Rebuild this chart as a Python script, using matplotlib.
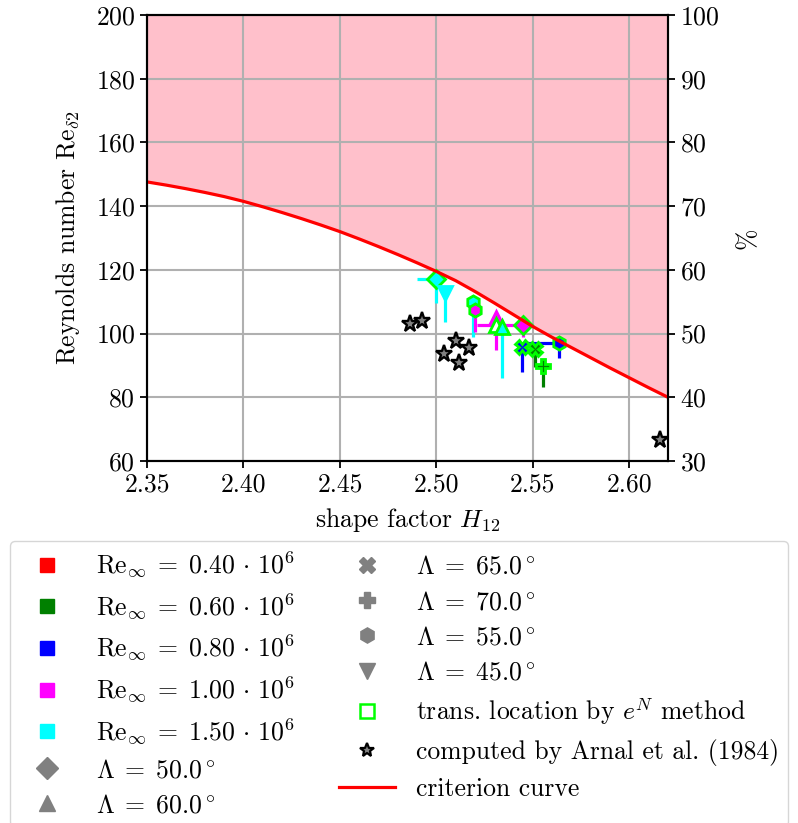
import matplotlib
matplotlib.use("Agg")
import matplotlib.pyplot as plt
from matplotlib.lines import Line2D

plt.rcParams["font.family"] = "serif"
plt.rcParams["font.serif"] = ["cmr10"]
plt.rcParams["mathtext.fontset"] = "cm"
plt.rcParams["axes.formatter.use_mathtext"] = True
plt.rcParams["axes.unicode_minus"] = False

FS = 18.5

# ---- criterion curve Re_delta2(H12) ----
curve_h = [2.35, 2.36, 2.37, 2.38, 2.39, 2.40, 2.41, 2.42, 2.43, 2.44, 2.45,
           2.46, 2.47, 2.48, 2.49, 2.50, 2.51, 2.52, 2.53, 2.54, 2.55, 2.56,
           2.57, 2.58, 2.59, 2.60, 2.61, 2.62]
curve_re = [147.6, 146.6, 145.5, 144.3, 143.0, 141.5, 139.8, 138.0, 136.1,
            134.1, 132.0, 129.7, 127.3, 124.8, 122.2, 119.5, 116.6, 113.2,
            109.6, 105.9, 102.2, 98.8, 95.6, 92.4, 89.2, 86.1, 83.0, 80.0]

# ---- measured / computed transition points ----
pt_h = [2.500, 2.5045, 2.519, 2.520, 2.531, 2.531, 2.534, 2.545, 2.5445, 2.5637, 2.551, 2.5554]
pt_re = [117.0, 112.7, 109.8, 107.5, 105.0, 102.7, 102.0, 102.8, 95.8, 97.1, 95.2, 89.8]
pt_color = ["cyan", "cyan", "cyan", "magenta", "magenta", "white", "cyan",
            "magenta", "blue", "blue", "green", "green"]
pt_edge = ["lime", "cyan", "lime", "lime", "magenta", "lime", "lime",
           "lime", "lime", "lime", "lime", "lime"]
pt_err_color = ["cyan", "cyan", "cyan", "magenta", "magenta", "magenta", "cyan",
                "magenta", "blue", "blue", "green", "green"]
pt_marker = ["D", "v", "h", "h", "^", "^", "^", "D", "X", "h", "X", "P"]
pt_xerr_lo = [0.010, 0.0, 0.0, 0.0, 0.0, 0.0, 0.0, 0.024, 0.0, 0.019, 0.0, 0.0]
pt_yerr_lo = [7.5, 9.0, 11.0, 7.0, 10.0, 0.0, 16.0, 3.8, 8.0, 4.8, 5.7, 6.6]

# ---- Arnal et al. (1984) ----
arnal_h = [2.4864, 2.4926, 2.5103, 2.5170, 2.5040, 2.5118, 2.6156]
arnal_re = [103.0, 104.0, 97.7, 95.5, 93.6, 90.8, 66.6]

re_labels = ["0.40", "0.60", "0.80", "1.00", "1.50"]
re_colors = ["red", "green", "blue", "magenta", "cyan"]
sweep_labels = ["50.0", "60.0", "65.0", "70.0", "55.0", "45.0"]
sweep_markers = ["D", "^", "X", "P", "h", "v"]

W, H = 798, 823
fig = plt.figure(figsize=(W / 100, H / 100), dpi=100)
ax = fig.add_axes([147 / W, 1 - 461 / H, (668 - 147) / W, (461 - 15) / H])

ax.fill_between(curve_h, curve_re, 200, color="pink", lw=0, zorder=1)
ax.grid(True, color="#b0b0b0", lw=1.5)

for i in range(len(pt_h)):
    ax.errorbar([pt_h[i]], [pt_re[i]],
                xerr=[[pt_xerr_lo[i]], [0.0]] if pt_xerr_lo[i] > 0 else None,
                yerr=[[pt_yerr_lo[i]], [0.0]] if pt_yerr_lo[i] > 0 else None,
                fmt="none", ecolor=pt_err_color[i], elinewidth=2.3, capsize=0, zorder=3)
for i in range(len(pt_h)):
    ax.plot(pt_h[i], pt_re[i], marker=pt_marker[i], ms=9.5, mfc=pt_color[i],
            mec=pt_edge[i], mew=2, ls="none", zorder=4)

ax.plot(arnal_h, arnal_re, ls="none", marker="*", ms=12.5, mfc="gray",
        mec="black", mew=1.7, zorder=5)
ax.plot(curve_h, curve_re, color="red", lw=2.3, zorder=6)

ax.set_xlim(2.35, 2.62)
ax.set_ylim(60, 200)
ax.set_xticks([2.35, 2.40, 2.45, 2.50, 2.55, 2.60])
ax.set_xticklabels(["2.35", "2.40", "2.45", "2.50", "2.55", "2.60"])
ax.set_yticks(range(60, 201, 20))
ax.set_xlabel(r"shape factor $H_{12}$", fontsize=FS, labelpad=7)
ax.set_ylabel(r"Reynolds number $\mathrm{Re}_{\delta2}$", fontsize=FS, labelpad=10)
ax.tick_params(labelsize=FS, length=5, width=1.3)
for s in ax.spines.values():
    s.set_linewidth(1.5)

ax2 = ax.twinx()
ax2.set_ylim(30, 100)
ax2.set_yticks(range(30, 101, 10))
ax2.set_ylabel("%", fontsize=FS, labelpad=12)
ax2.tick_params(labelsize=FS, length=5, width=1.3)
for s in ax2.spines.values():
    s.set_linewidth(1.5)

handles, labels = [], []
for lab, col in zip(re_labels, re_colors):
    handles.append(Line2D([], [], ls="none", marker="s", ms=10, mfc=col, mec=col))
    labels.append(r"$\mathrm{Re}_\infty\;=\;%s\,\cdot\,10^6$" % lab)
for lab, mk in zip(sweep_labels, sweep_markers):
    handles.append(Line2D([], [], ls="none", marker=mk, ms=11, mfc="gray", mec="gray"))
    labels.append(r"$\Lambda\;=\;%s^\circ$" % lab)
handles.append(Line2D([], [], ls="none", marker="s", ms=10, mfc="none", mec="lime", mew=1.8))
labels.append(r"trans. location by $e^N$ method")
handles.append(Line2D([], [], ls="none", marker="*", ms=10, mfc="gray", mec="black", mew=1.6))
labels.append("computed by Arnal et al. (1984)")
handles.append(Line2D([], [], color="red", lw=2.3))
labels.append("criterion curve")

fig.legend(handles, labels, ncol=2, loc="upper left",
           bbox_to_anchor=(10 / W, 1 - 541 / H), borderaxespad=0, fontsize=FS,
           handlelength=2.2, handletextpad=0.8, columnspacing=1.7,
           labelspacing=0.45, borderpad=0.35)

fig.savefig("out.png", dpi=100)
